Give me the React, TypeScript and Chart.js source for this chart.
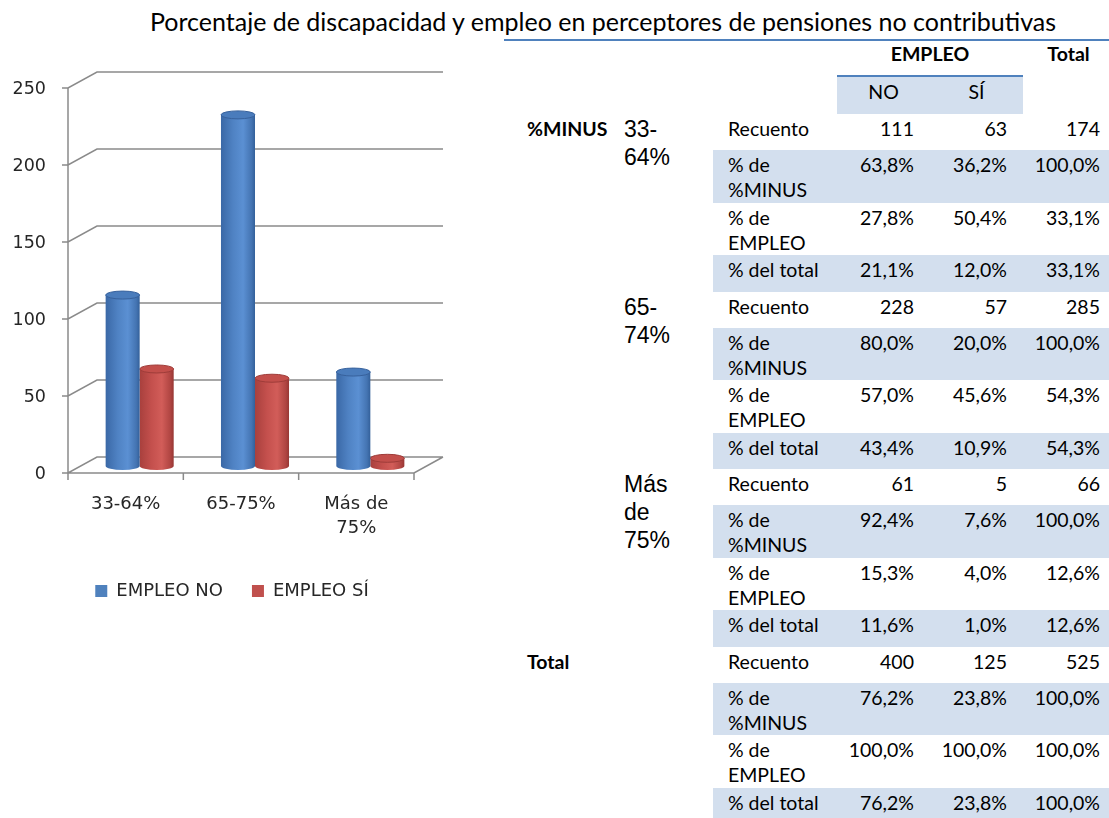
import React, { useEffect, useRef } from 'react';
import { Chart, registerables } from 'chart.js';

Chart.register(...registerables);

// ---------- chart data ----------
const categories = [['33-64%'], ['65-75%'], ['Más de', '75%']];
const seriesLabels = ['EMPLEO NO', 'EMPLEO SÍ'];
const empleoNo = [111, 228, 61];
const empleoSi = [63, 57, 5];
const yMax = 250;
const yStep = 50;

// ---------- table data ----------
const title = 'Porcentaje de discapacidad y empleo en perceptores de pensiones no contributivas';
const groupHeads = ['%MINUS', '', '', 'Total'];
const groupLabels = ['33-\n64%', '65-\n74%', 'Más\nde\n75%', ''];
const statLabels = ['Recuento', '% de\n%MINUS', '% de\nEMPLEO', '% del total'];
const colNo = [
  ['111', '63,8%', '27,8%', '21,1%'],
  ['228', '80,0%', '57,0%', '43,4%'],
  ['61', '92,4%', '15,3%', '11,6%'],
  ['400', '76,2%', '100,0%', '76,2%'],
];
const colSi = [
  ['63', '36,2%', '50,4%', '12,0%'],
  ['57', '20,0%', '45,6%', '10,9%'],
  ['5', '7,6%', '4,0%', '1,0%'],
  ['125', '23,8%', '100,0%', '23,8%'],
];
const colTotal = [
  ['174', '100,0%', '33,1%', '33,1%'],
  ['285', '100,0%', '54,3%', '54,3%'],
  ['66', '100,0%', '12,6%', '12,6%'],
  ['525', '100,0%', '100,0%', '100,0%'],
];

// perspective offsets (front plane / back wall) relative to the bar plane
const FRONT = { dx: -14, dy: 7 };
const BACK = { dx: 15, dy: -9 };
const ELL_RY = 4;

const gradStops: Record<number, [number, string][]> = {
  0: [[0, '#3a68a6'], [0.35, '#4f82c3'], [0.65, '#5b90d3'], [0.9, '#4474b2'], [1, '#33609a']],
  1: [[0, '#a8403d'], [0.35, '#c4504d'], [0.65, '#d25d59'], [0.9, '#b04542'], [1, '#973734']],
};
const topFill = ['#4a7cbc', '#c34f4b'];
const topStroke = ['#37619c', '#9e3c39'];

const wallPlugin = {
  id: 'wall3d',
  afterLayout(chart: any) {
    // let the y tick labels extend to the canvas' left edge
    chart.scales.y.left = 0;
  },
  beforeDatasetsDraw(chart: any) {
    const { ctx, chartArea, scales } = chart;
    const x = scales.x;
    const y = scales.y;
    const L = chartArea.left;
    const R = chartArea.right;
    ctx.save();
    ctx.strokeStyle = '#8a8a8a';
    ctx.lineWidth = 1.5;
    ctx.beginPath();
    y.ticks.forEach((t: any) => {
      const p = y.getPixelForValue(t.value);
      ctx.moveTo(L + FRONT.dx - 6, p + FRONT.dy);
      ctx.lineTo(L + FRONT.dx, p + FRONT.dy);
      ctx.lineTo(L + BACK.dx, p + BACK.dy);
      ctx.lineTo(R + BACK.dx, p + BACK.dy);
    });
    const pTop = y.getPixelForValue(y.max);
    const p0 = y.getPixelForValue(0);
    ctx.moveTo(L + FRONT.dx, pTop + FRONT.dy);
    ctx.lineTo(L + FRONT.dx, p0 + FRONT.dy);
    ctx.lineTo(R + FRONT.dx, p0 + FRONT.dy);
    ctx.lineTo(R + BACK.dx, p0 + BACK.dy);
    const n = x.ticks.length;
    const half = (x.getPixelForValue(1) - x.getPixelForValue(0)) / 2;
    for (let i = 0; i <= n; i++) {
      const xb = x.getPixelForValue(0) - half + i * 2 * half + FRONT.dx;
      ctx.moveTo(xb, p0 + FRONT.dy);
      ctx.lineTo(xb, p0 + FRONT.dy + 7);
    }
    ctx.stroke();
    ctx.restore();
  },
  beforeDatasetDraw(chart: any, args: any) {
    const { ctx } = chart;
    const stops = gradStops[args.index];
    args.meta.data.forEach((el: any) => {
      const w = el.width;
      const g = ctx.createLinearGradient(el.x - w / 2, 0, el.x + w / 2, 0);
      stops.forEach(([o, c]) => g.addColorStop(o, c));
      el.options = { ...el.options, backgroundColor: g };
    });
  },
  afterDatasetDraw(chart: any, args: any) {
    const { ctx } = chart;
    args.meta.data.forEach((el: any) => {
      const rx = el.width / 2;
      ctx.save();
      ctx.beginPath();
      ctx.ellipse(el.x, el.base, rx, ELL_RY, 0, 0, Math.PI);
      ctx.fillStyle = el.options.backgroundColor;
      ctx.fill();
      ctx.beginPath();
      ctx.ellipse(el.x, el.y, rx, ELL_RY, 0, 0, Math.PI * 2);
      ctx.fillStyle = topFill[args.index];
      ctx.fill();
      ctx.lineWidth = 1;
      ctx.strokeStyle = topStroke[args.index];
      ctx.stroke();
      ctx.restore();
    });
  },
};

function BarChart() {
  const ref = useRef<HTMLCanvasElement | null>(null);
  useEffect(() => {
    if (!ref.current) return;
    const font = { family: 'DejaVu Sans', size: 18 };
    const chart = new Chart(ref.current, {
      type: 'bar',
      data: {
        labels: categories as any,
        datasets: [
          { label: seriesLabels[0], data: empleoNo, backgroundColor: '#4f81bd', borderWidth: 0, barPercentage: 1, categoryPercentage: 0.59 },
          { label: seriesLabels[1], data: empleoSi, backgroundColor: '#c0504d', borderWidth: 0, barPercentage: 1, categoryPercentage: 0.59 },
        ],
      },
      options: {
        responsive: false,
        maintainAspectRatio: false,
        animation: false,
        devicePixelRatio: 1,
        layout: { padding: { top: 81, left: 36, right: 37, bottom: 0 } },
        plugins: {
          legend: {
            position: 'bottom',
            labels: { boxWidth: 12, boxHeight: 12, padding: 29, font, color: '#262626' },
          },
          tooltip: { enabled: false },
        },
        scales: {
          x: {
            grid: { display: false, drawTicks: false },
            border: { display: false },
            ticks: { padding: 26, labelOffset: -14, font: { ...font, lineHeight: 1.33 }, color: '#262626', maxRotation: 0, autoSkip: false },
            afterFit(s: any) { s.height = 87; },
          },
          y: {
            min: 0,
            max: yMax,
            grid: { display: false, drawTicks: false },
            border: { display: false },
            ticks: { stepSize: yStep, padding: 36, labelOffset: 8, font: { family: 'DejaVu Sans', size: 17.5 }, color: '#262626' },
            afterFit(s: any) { s.width = 46; },
          },
        },
      },
      plugins: [wallPlugin],
    } as any);
    return () => chart.destroy();
  }, []);
  return <canvas ref={ref} width={465} height={610} style={{ position: 'absolute', left: 0, top: 0, width: 465, height: 610 }} />;
}

const TABLE_TOP = 114;
const GROUP_H = 177.5;
const ROW_H = [36, 52.5, 52.5, 36.5];
const X_LABEL = 713;
const X_NO = 837;
const X_SI = 930;
const X_TOT = 1023;
const X_END = 1109;
const SHADE = '#d3dfee';
const BLUE = '#4f81bd';

const cellFont: React.CSSProperties = {
  position: 'absolute',
  fontFamily: 'Lato, "Noto Sans", sans-serif',
  fontSize: 19.5,
  lineHeight: '25px',
  color: '#000',
  whiteSpace: 'pre',
};

function Table() {
  const items: React.ReactNode[] = [];
  for (let g = 0; g < 4; g++) {
    const gTop = TABLE_TOP + g * GROUP_H;
    if (groupHeads[g]) {
      items.push(<div key={`gh${g}`} style={{ ...cellFont, left: 527, top: gTop + 2, fontWeight: 700 }}>{groupHeads[g]}</div>);
    }
    if (groupLabels[g]) {
      items.push(
        <div key={`gl${g}`} style={{ ...cellFont, fontFamily: '"Liberation Sans", Arial, sans-serif', fontSize: 23, lineHeight: '28px', left: 624, top: gTop + 1 }}>
          {groupLabels[g]}
        </div>
      );
    }
    let rTop = gTop;
    for (let r = 0; r < 4; r++) {
      const h = ROW_H[r];
      if (r === 1 || r === 3) {
        items.push(<div key={`sh${g}${r}`} style={{ position: 'absolute', left: X_LABEL, top: rTop, width: X_END - X_LABEL, height: h, background: SHADE }} />);
      }
      items.push(<div key={`sl${g}${r}`} style={{ ...cellFont, left: 728, top: rTop + 2 }}>{statLabels[r]}</div>);
      const cols = [[X_NO, colNo], [X_SI, colSi], [X_TOT, colTotal]] as [number, string[][]][];
      cols.forEach(([x0, col], ci) => {
        items.push(
          <div key={`v${g}${r}${ci}`} style={{ ...cellFont, left: x0, top: rTop + 2, width: 93 - 16, textAlign: 'right' }}>
            {col[g][r]}
          </div>
        );
      });
      rTop += h;
    }
  }
  return (
    <>
      <div style={{ position: 'absolute', left: 504, top: 39, width: 605, height: 2, background: BLUE }} />
      <div style={{ ...cellFont, left: X_NO, top: 40.5, width: X_TOT - X_NO, textAlign: 'center', fontWeight: 700 }}>EMPLEO</div>
      <div style={{ ...cellFont, left: X_TOT, top: 40.5, width: 91, textAlign: 'center', fontWeight: 700 }}>Total</div>
      <div style={{ position: 'absolute', left: X_NO, top: 75, width: X_TOT - X_NO, height: 39, background: SHADE, borderTop: `2px solid ${BLUE}`, boxSizing: 'border-box' }} />
      <div style={{ ...cellFont, left: X_NO, top: 79, width: X_SI - X_NO, textAlign: 'center' }}>NO</div>
      <div style={{ ...cellFont, left: X_SI, top: 79, width: X_TOT - X_SI, textAlign: 'center' }}>SÍ</div>
      {items}
    </>
  );
}

export default function App() {
  return (
    <div style={{ position: 'absolute', left: 0, top: 0, width: 1109, height: 818, overflow: 'hidden', background: '#fff' }}>
      <div style={{ ...cellFont, left: 103, top: 6, width: 1000, textAlign: 'center', fontSize: 25, lineHeight: '30px' }}>{title}</div>
      <BarChart />
      <Table />
    </div>
  );
}
